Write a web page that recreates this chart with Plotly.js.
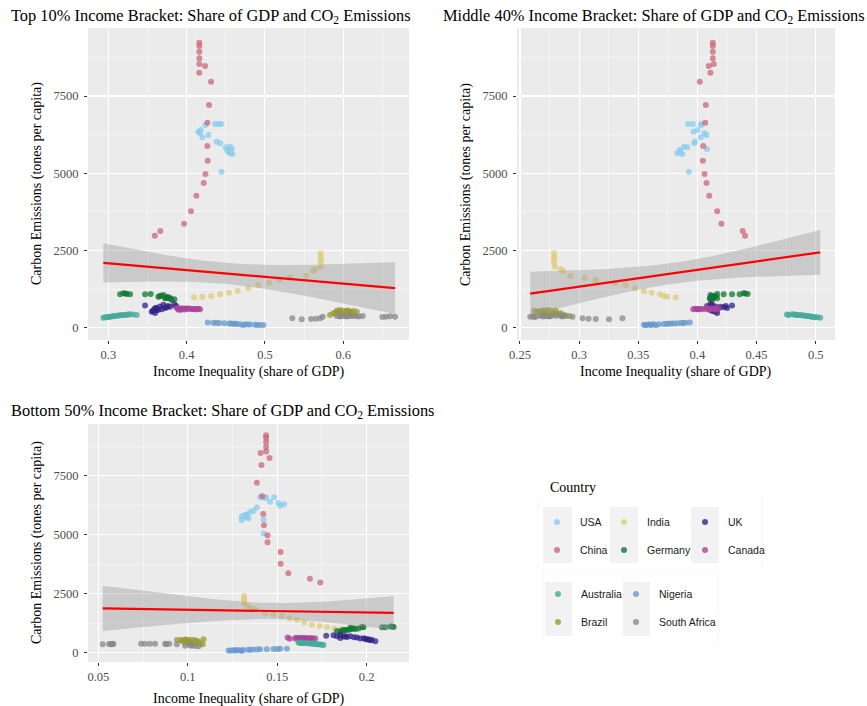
<!DOCTYPE html>
<html><head><meta charset="utf-8">
<script src="https://cdn.plot.ly/plotly-3.0.1.min.js"></script>
<style>body{margin:0;background:#fff;} #chart{width:867px;height:706px;}</style>
</head><body><div id="chart"></div>
<script>
// ---------- DATA ----------
const countries = ["USA","China","India","Germany","UK","Canada","Australia","Brazil","Nigeria","South Africa"];
const countryColors = ["#88CCEE","#CC6677","#DDCC77","#117733","#332288","#AA4499","#44AA99","#999933","#6699CC","#888888"];

// CO2 emissions (tones per capita) and income share by bracket, one value per year
const usaCO2     = [6594,6594,6594,6562,6400,6346,6292,6238,6163,6022,5969,5859,5840,5785,5750,5698,5645,5623,5050];
const usaTop10   = [0.4363,0.4406,0.444,0.4239,0.418,0.415,0.4171,0.4278,0.4201,0.4384,0.4427,0.4555,0.4499,0.4576,0.452,0.4533,0.4555,0.4585,0.4444];
const usaMid40   = [0.3922,0.3961,0.4032,0.4032,0.4,0.3967,0.406,0.4077,0.4029,0.3978,0.3973,0.3886,0.3914,0.408,0.385,0.3858,0.383,0.3872,0.3928];
const usaBot50   = [0.1405,0.1438,0.1483,0.1429,0.146,0.1507,0.1539,0.1517,0.1386,0.1368,0.1349,0.133,0.1321,0.1302,0.133,0.1339,0.1424,0.1302,0.1424];

const chinaCO2   = [9226,9120,8935,8721,8537,8472,8255,7964,7209,6637,5882,5406,4976,4684,4273,3768,3367,3130,2978];
const chinaTop10 = [0.4162,0.4162,0.4162,0.4162,0.4162,0.4235,0.4162,0.4312,0.4286,0.4265,0.4265,0.4269,0.424,0.4218,0.4124,0.4056,0.3967,0.3664,0.3593];
const chinaMid40 = [0.413,0.413,0.413,0.413,0.4138,0.4096,0.411,0.402,0.4071,0.4066,0.4049,0.4046,0.406,0.4077,0.41,0.4167,0.4203,0.4383,0.4403];
const chinaBot50 = [0.1438,0.1438,0.1438,0.1438,0.1438,0.1407,0.1457,0.1412,0.1386,0.1416,0.1422,0.1426,0.1446,0.1446,0.1519,0.1519,0.1562,0.1683,0.1741];

const indiaCO2   = [2408,2299,2214,2104,1975,1890,1845,1684,1619,1544,1457,1382,1275,1188,1133,1081,1026,1004,983];
const indiaTop10 = [0.5712,0.5712,0.5712,0.5712,0.5712,0.564,0.5618,0.5525,0.532,0.5184,0.5052,0.4916,0.4788,0.4652,0.4541,0.4427,0.4312,0.42,0.4095];
const indiaMid40 = [0.2789,0.2789,0.2789,0.2789,0.2795,0.2846,0.2865,0.2925,0.3048,0.3141,0.3304,0.3394,0.3473,0.3549,0.3613,0.3684,0.3716,0.3745,0.3816];
const indiaBot50 = [0.1315,0.1315,0.1315,0.1315,0.133,0.1349,0.1377,0.1433,0.1479,0.1526,0.1569,0.161,0.1651,0.1694,0.1737,0.1778,0.1819,0.1862,0.1862];

const germanyCO2   = [1113,1110,1091,1081,1081,1081,1091,1004,1036,1059,1020,1000,980,960,951,951,940,897,918];
const germanyTop10 = [0.3192,0.322,0.3235,0.315,0.3277,0.3469,0.3541,0.3639,0.3669,0.3703,0.3655,0.3745,0.378,0.3735,0.3724,0.3766,0.3795,0.381,0.3843];
const germanyMid40 = [0.4391,0.4405,0.4425,0.4357,0.4293,0.4222,0.4167,0.4144,0.4125,0.411,0.4155,0.4118,0.4135,0.4112,0.4105,0.4167,0.412,0.4125,0.411];
const germanyBot50 = [0.2133,0.2142,0.2151,0.2105,0.2086,0.1983,0.1974,0.1937,0.1927,0.1909,0.1955,0.1918,0.1905,0.1882,0.189,0.1872,0.1862,0.1853,0.1834];

const ukCO2   = [760,740,720,700,700,690,680,660,650,640,620,610,600,580,570,560,540,520,480];
const ukTop10 = [0.3843,0.3703,0.3469,0.3865,0.376,0.366,0.3788,0.3746,0.361,0.3724,0.3618,0.359,0.3682,0.3639,0.362,0.3575,0.357,0.3554,0.3597];
const ukMid40 = [0.411,0.4125,0.4293,0.4082,0.424,0.4152,0.4195,0.4222,0.418,0.4251,0.4167,0.414,0.4138,0.411,0.412,0.4125,0.413,0.4152,0.4167];
const ukBot50 = [0.1853,0.1815,0.1774,0.1834,0.188,0.1909,0.1872,0.189,0.193,0.1946,0.1853,0.1985,0.1965,0.1993,0.201,0.2002,0.203,0.2021,0.2049];

const canadaCO2   = [640,630,625,620,620,615,615,610,610,605,605,600,600,600,595,595,590,585,580];
const canadaTop10 = [0.3873,0.3916,0.399,0.3958,0.402,0.4001,0.415,0.4043,0.394,0.4086,0.406,0.4129,0.39,0.411,0.4171,0.41,0.398,0.393,0.3895];
const canadaMid40 = [0.4181,0.4153,0.41,0.4125,0.409,0.4083,0.398,0.404,0.414,0.3998,0.406,0.3964,0.417,0.401,0.4,0.402,0.411,0.415,0.41];
const canadaBot50 = [0.1558,0.1606,0.1635,0.1625,0.1655,0.1644,0.17,0.1666,0.1615,0.1685,0.166,0.1713,0.16,0.169,0.163,0.1675,0.164,0.157,0.165];

const australiaCO2   = [324,335,340,350,357,365,375,380,389,395,400,405,411,415,420,425,432,430,411];
const australiaTop10 = [0.2936,0.296,0.298,0.3,0.3022,0.304,0.3064,0.3085,0.3107,0.313,0.315,0.317,0.3192,0.3215,0.3235,0.3255,0.3277,0.3319,0.3363];
const australiaMid40 = [0.5038,0.5015,0.4996,0.498,0.4968,0.4955,0.4939,0.4925,0.4911,0.4895,0.4883,0.487,0.4855,0.484,0.4827,0.4815,0.4799,0.4757,0.477];
const australiaBot50 = [0.1759,0.175,0.1741,0.173,0.1722,0.1712,0.1703,0.1695,0.1685,0.1675,0.1666,0.1655,0.1638,0.1645,0.1629,0.1625,0.1619,0.163,0.1703];

const brazilCO2   = [570,560,550,540,530,520,540,550,520,500,480,470,450,430,410,400,390,380,360];
const brazilTop10 = [0.5959,0.6060,0.6002,0.6045,0.594,0.6087,0.6129,0.5917,0.6173,0.61,0.59,0.5873,0.6002,0.598,0.5831,0.6087,0.615,0.5959,0.6045];
const brazilMid40 = [0.2734,0.27,0.2767,0.2691,0.266,0.2649,0.2621,0.2804,0.2705,0.272,0.278,0.2846,0.2804,0.283,0.2874,0.2677,0.276,0.2916,0.2747];
const brazilBot50 = [0.1088,0.099,0.0985,0.1004,0.096,0.0967,0.0939,0.1023,0.1041,0.1,0.105,0.106,0.0976,0.102,0.0995,0.1013,0.107,0.1032,0.1084];

const nigeriaCO2   = [165,160,155,150,145,140,135,130,125,120,115,110,105,100,95,90,90,85,80];
const nigeriaTop10 = [0.4269,0.4341,0.438,0.4418,0.4482,0.4546,0.457,0.4597,0.462,0.464,0.4682,0.4746,0.478,0.481,0.4874,0.4938,0.49,0.498,0.472];
const nigeriaMid40 = [0.3936,0.39,0.388,0.3863,0.383,0.3801,0.378,0.3759,0.374,0.3717,0.3675,0.3632,0.361,0.359,0.3548,0.357,0.356,0.3608,0.365];
const nigeriaBot50 = [0.1554,0.1517,0.15,0.1479,0.1442,0.1405,0.139,0.1367,0.135,0.1339,0.1311,0.1283,0.127,0.1256,0.1228,0.1265,0.124,0.13,0.13];

const southAfricaCO2   = [357,370,357,350,378,365,378,375,378,380,378,360,378,357,303,290,281,271,303];
const southAfricaTop10 = [0.6662,0.66,0.6547,0.65,0.6249,0.62,0.6173,0.612,0.6087,0.6045,0.6002,0.596,0.5917,0.5738,0.5704,0.565,0.5589,0.547,0.535];
const southAfricaMid40 = [0.2587,0.261,0.2635,0.262,0.2677,0.27,0.2719,0.274,0.2761,0.2804,0.2846,0.286,0.2888,0.2944,0.3029,0.308,0.3141,0.3253,0.3366];
const southAfricaBot50 = [0.0524,0.056,0.0575,0.057,0.0584,0.058,0.0739,0.076,0.0788,0.0817,0.0873,0.088,0.0897,0.0939,0.1013,0.0985,0.1041,0.106,0.1023];

const panelTitles = [
  "Top 10% Income Bracket: Share of GDP and CO<sub>2</sub> Emissions",
  "Middle 40% Income Bracket: Share of GDP and CO<sub>2</sub> Emissions",
  "Bottom 50% Income Bracket: Share of GDP and CO<sub>2</sub> Emissions"
];
const xTickVals = [[0.3,0.4,0.5,0.6],[0.25,0.3,0.35,0.4,0.45,0.5],[0.05,0.1,0.15,0.2]];
const yTickVals = [0,2500,5000,7500];
const xTitle = "Income Inequality (share of GDP)";
const yTitle = "Carbon Emissions (tones per capita)";
const legendTitle = "Country";

// ---------- BUILD ----------
const co2 = [usaCO2,chinaCO2,indiaCO2,germanyCO2,ukCO2,canadaCO2,australiaCO2,brazilCO2,nigeriaCO2,southAfricaCO2];
const shares = [
  [usaTop10,chinaTop10,indiaTop10,germanyTop10,ukTop10,canadaTop10,australiaTop10,brazilTop10,nigeriaTop10,southAfricaTop10],
  [usaMid40,chinaMid40,indiaMid40,germanyMid40,ukMid40,canadaMid40,australiaMid40,brazilMid40,nigeriaMid40,southAfricaMid40],
  [usaBot50,chinaBot50,indiaBot50,germanyBot50,ukBot50,canadaBot50,australiaBot50,brazilBot50,nigeriaBot50,southAfricaBot50]
];

const W = 867, H = 706;
const px = v => v / W, py = v => 1 - v / H;
// panel rectangles in pixels [left, right, top, bottom]
const panels = [[88,409,28,340],[517,835,28,340],[88,409,424,662]];
const xRanges = [[0.274,0.684],[0.2475,0.5163],[0.0442,0.2237]];
const yRange = [-398,9702];

function tQuant(df){ // approx 97.5% t quantile
  const z = 1.959964;
  return z + (z*z*z + z)/(4*df) + (5*Math.pow(z,5)+16*z*z*z+3*z)/(96*df*df);
}
function linfit(xs, ys){
  const n = xs.length;
  const mx = xs.reduce((a,b)=>a+b,0)/n, my = ys.reduce((a,b)=>a+b,0)/n;
  let sxx=0, sxy=0;
  for(let i=0;i<n;i++){ sxx+=(xs[i]-mx)**2; sxy+=(xs[i]-mx)*(ys[i]-my); }
  const b = sxy/sxx, a = my - b*mx;
  let sse=0; for(let i=0;i<n;i++){ sse += (ys[i]-a-b*xs[i])**2; }
  const s = Math.sqrt(sse/(n-2)), t = tQuant(n-2);
  const xmin = Math.min(...xs), xmax = Math.max(...xs);
  const gx=[], gy=[], lo=[], hi=[];
  for(let k=0;k<=80;k++){
    const x = xmin + (xmax-xmin)*k/80;
    const yh = a + b*x;
    const se = s*Math.sqrt(1/n + (x-mx)**2/sxx);
    gx.push(x); gy.push(yh); lo.push(yh - t*se); hi.push(yh + t*se);
  }
  return {gx, gy, lo, hi};
}

const serif = "Liberation Serif, Times New Roman, serif";
const sans = "Liberation Sans, Arial, Helvetica, sans-serif";

const traces = [];
const layout = {
  width: W, height: H,
  margin: {l:0, r:0, t:0, b:0},
  paper_bgcolor: "#ffffff",
  plot_bgcolor: "#EBEBEB",
  showlegend: false,
  font: {family: serif, color: "#000"},
  annotations: [], shapes: []
};

for (let p = 0; p < 3; p++) {
  const sfx = p === 0 ? "" : String(p+1);
  const xa = "x"+sfx, ya = "y"+sfx;
  const [l,r,t,b] = panels[p];
  const allX = [], allY = [];
  for (let c = 0; c < countries.length; c++) {
    traces.push({
      type: "scatter", mode: "markers", xaxis: xa, yaxis: ya,
      x: shares[p][c], y: co2[c], name: countries[c],
      marker: {color: countryColors[c], size: 6, opacity: 0.75, line: {width: 0}},
      hoverinfo: "x+y+name"
    });
    allX.push(...shares[p][c]); allY.push(...co2[c]);
  }
  const f = linfit(allX, allY);
  traces.push({
    type: "scatter", mode: "lines", xaxis: xa, yaxis: ya,
    x: f.gx.concat(f.gx.slice().reverse()),
    y: f.hi.concat(f.lo.slice().reverse()),
    fill: "toself", fillcolor: "rgba(153,153,153,0.4)", line: {width: 0}, hoverinfo: "skip"
  });
  traces.push({
    type: "scatter", mode: "lines", xaxis: xa, yaxis: ya,
    x: f.gx, y: f.gy, line: {color: "#FF0000", width: 2.2}, hoverinfo: "skip"
  });

  const dx = xTickVals[p][1]-xTickVals[p][0];
  layout["xaxis"+sfx] = {
    domain: [px(l), px(r)], anchor: ya, range: xRanges[p],
    tickvals: xTickVals[p], ticktext: xTickVals[p].map(String),
    showgrid: true, gridcolor: "#FFFFFF", gridwidth: 1.1, zeroline: false,
    ticks: "outside", ticklen: 3, tickwidth: 1, tickcolor: "#333333",
    tickfont: {family: serif, size: 12.5, color: "#4D4D4D"},
    minor: {dtick: dx/2, tick0: xTickVals[p][0]-dx/2, showgrid: true, gridcolor: "#FFFFFF", gridwidth: 0.5, ticks: ""},
    showline: false, fixedrange: true
  };
  layout["yaxis"+sfx] = {
    domain: [py(b), py(t)], anchor: xa, range: yRange,
    tickvals: yTickVals, ticktext: yTickVals.map(String),
    showgrid: true, gridcolor: "#FFFFFF", gridwidth: 1.1, zeroline: false,
    ticks: "outside", ticklen: 3, tickwidth: 1, tickcolor: "#333333",
    ticklabelstandoff: 3,
    tickfont: {family: serif, size: 12.5, color: "#4D4D4D"},
    minor: {dtick: 1250, tick0: -1250, showgrid: true, gridcolor: "#FFFFFF", gridwidth: 0.5, ticks: ""},
    showline: false, fixedrange: true
  };

  // panel title
  layout.annotations.push({
    text: panelTitles[p], xref: "paper", yref: "paper",
    x: px(p === 1 ? 441 : 9), y: py(p === 2 ? 411 : 16),
    xanchor: "left", yanchor: "middle", showarrow: false,
    font: {family: serif, size: 16.4, color: "#000"}
  });
  // x axis title
  layout.annotations.push({
    text: xTitle, xref: "paper", yref: "paper",
    x: px((l+r)/2), y: py(p === 2 ? 699 : 372),
    xanchor: "center", yanchor: "middle", showarrow: false,
    font: {family: serif, size: 14, color: "#000"}
  });
  // y axis title
  layout.annotations.push({
    text: yTitle, xref: "paper", yref: "paper",
    x: px(l - 51), y: py((t+b)/2), textangle: -90,
    xanchor: "center", yanchor: "middle", showarrow: false,
    font: {family: serif, size: 14, color: "#000"}
  });
}

// ---------- LEGEND (drawn by hand, ggplot style) ----------
layout.annotations.push({
  text: legendTitle, xref: "paper", yref: "paper", x: px(548), y: py(487),
  xanchor: "left", yanchor: "middle", showarrow: false,
  font: {family: serif, size: 14, color: "#000"}
});
const rect = (x0,x1,y0,y1,fill,line) => ({type:"rect", xref:"paper", yref:"paper",
  x0:px(x0), x1:px(x1), y0:py(y1), y1:py(y0), fillcolor:fill, line:{color:line||fill, width:line?0.6:0}, layer:"above"});
layout.shapes.push(rect(538,762,498,570,"#FFFFFF","#F4F4F4"));
layout.shapes.push(rect(543,718,572,643,"#FFFFFF","#F4F4F4"));
[[543,572,507,563],[610,638,507,563],[691,719,507,563],[545,572,582,636],[623,650,582,636]]
  .forEach(k => layout.shapes.push(rect(k[0],k[1],k[2],k[3],"#F2F2F2")));
// legend entries: [country index, dot x, y, label x]
const legendItems = [
  [0,557,522,578],[1,557,550,578],
  [2,624,522,645],[3,624,550,645],
  [4,705,522,726],[5,705,550,726],
  [6,558,594,579],[7,558,622,579],
  [8,636,594,657],[9,636,622,657]
];
legendItems.forEach(([c,dx,dy,lx]) => {
  layout.shapes.push({type:"circle", xref:"paper", yref:"paper", xsizemode:"pixel", ysizemode:"pixel",
    xanchor:px(dx), yanchor:py(dy), x0:-3, x1:3, y0:-3, y1:3,
    fillcolor: countryColors[c], opacity: 0.8, line:{width:0}, layer:"above"});
  layout.annotations.push({text: countries[c], xref:"paper", yref:"paper", x:px(lx), y:py(dy),
    xanchor:"left", yanchor:"middle", showarrow:false,
    font:{family:sans, size:10.5, color:"#1a1a1a"}});
});

Plotly.newPlot("chart", traces, layout, {staticPlot: true, displayModeBar: false});
</script>
</body></html>
